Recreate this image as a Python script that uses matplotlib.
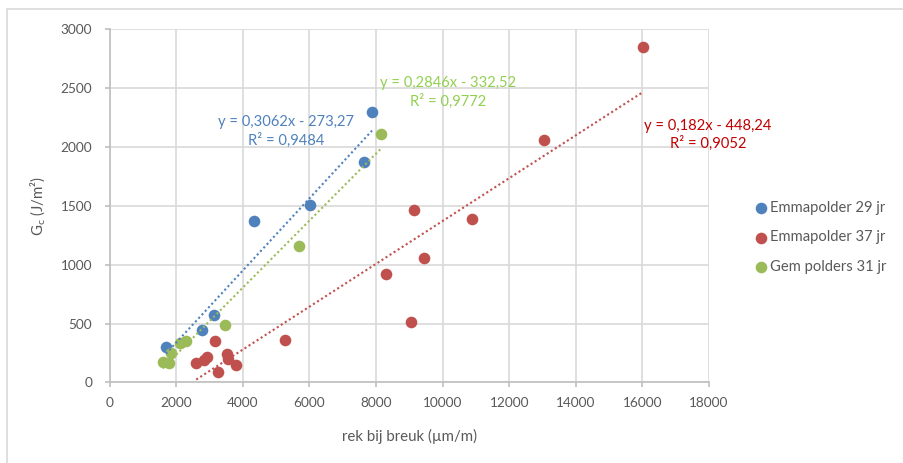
import numpy as np
import matplotlib
matplotlib.use('Agg')
import matplotlib.pyplot as plt
from matplotlib.patches import Rectangle

plt.rcParams['font.family'] = ['Lato', 'DejaVu Sans']

# data
blue_x = [1690, 2770, 3120, 4350, 6030, 7630, 7880]
blue_y = [300, 445, 575, 1370, 1505, 1875, 2300]

red_x = [2600, 2830, 2930, 3160, 3240, 3520, 3540, 3780, 5270,
         8290, 9060, 9130, 9440, 10880, 13050, 16020]
red_y = [165, 195, 220, 355, 85, 240, 200, 145, 360,
         920, 510, 1465, 1055, 1385, 2060, 2850]

green_x = [1590, 1770, 1840, 2120, 2300, 3460, 5700, 8140]
green_y = [170, 165, 250, 335, 355, 490, 1160, 2110]

labels = ['Emmapolder 29 jr', 'Emmapolder 37 jr', 'Gem polders 31 jr']
fits = [(0.3062, -273.27, 0.9484), (0.182, -448.24, 0.9052), (0.2846, -332.52, 0.9772)]
fit_text = ['y = 0,3062x - 273,27\nR² = 0,9484',
            'y = 0,182x - 448,24\nR² = 0,9052',
            'y = 0,2846x - 332,52\nR² = 0,9772']

colors = ['#4F81BD', '#C0504D', '#9BBB59']
text_colors = ['#4F81BD', '#C00000', '#92D050']
grey = '#595959'

fig = plt.figure(figsize=(9.04, 4.63), dpi=100)
ax = fig.add_axes([0.1213, 0.1739, 0.7843 - 0.1213, 0.9367 - 0.1739])

# outer chart frame
fig.patches.append(Rectangle((7 / 904, -0.1), 1.2, 1 - 9 / 463 + 0.1,
                             transform=fig.transFigure, fill=False,
                             edgecolor='#D9D9D9', linewidth=1.2))

series = [(blue_x, blue_y), (red_x, red_y), (green_x, green_y)]
for (xs, ys), lab, col in zip(series, labels, colors):
    ax.scatter(xs, ys, s=70, color=col, label=lab, zorder=3, linewidths=0)

for (xs, ys), (a, b, r2), col in zip(series, fits, colors):
    xx = np.array([min(xs), max(xs)])
    ax.plot(xx, a * xx + b, color=col, lw=1.5, linestyle=(0, (1, 1.3)), zorder=4)

# trendline labels (pixel positions from the reference)
label_pos = [(286, 131.7), (708, 135), (448, 92.7)]
for (px, py), txt, col in zip(label_pos, fit_text, text_colors):
    fig.text(px / 904, 1 - py / 463, txt, color=col, fontsize=10.6,
             ha='center', va='center', linespacing=1.3)

ax.set_xlim(0, 18000)
ax.set_ylim(0, 3000)
ax.set_xticks(np.arange(0, 18001, 2000))
ax.set_yticks(np.arange(0, 3001, 500))
ax.grid(True, color='#D9D9D9', lw=1.2)
ax.set_axisbelow(True)
for s in ['top', 'right']:
    ax.spines[s].set_visible(False)
for s in ['left', 'bottom']:
    ax.spines[s].set_color('#BFBFBF')
    ax.spines[s].set_linewidth(1.2)
ax.tick_params(axis='both', colors='#BFBFBF', labelcolor=grey, labelsize=9.8,
               length=3.5, width=1.2)
ax.tick_params(axis='x', pad=7)
ax.tick_params(axis='y', pad=9)

ax.set_xlabel('rek bij breuk (µm/m)', color=grey, fontsize=10.8, labelpad=14)
ax.set_ylabel(r'G$_\mathregular{c}$ (J/m²)', color=grey, fontsize=10.8, labelpad=9)

leg = ax.legend(loc='center left', bbox_to_anchor=(757 / 904, 1 - 237.5 / 463),
                bbox_transform=fig.transFigure, frameon=False, fontsize=10.6,
                handlelength=0.6, handletextpad=0.25, labelspacing=1.05,
                borderpad=0, borderaxespad=0)
for t in leg.get_texts():
    t.set_color(grey)

plt.savefig('out.png', dpi=100)
